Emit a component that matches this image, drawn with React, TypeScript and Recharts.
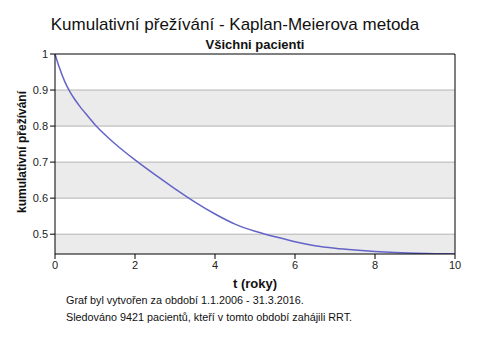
import React from "react";
import {
  LineChart, Line, XAxis, YAxis, ReferenceArea, ReferenceLine,
} from "recharts";

const years = [0, 0.1, 0.25, 0.375, 0.5, 0.625, 0.75, 1, 1.25, 1.5, 2, 2.5, 3, 3.5, 4, 4.5, 5, 5.5, 6, 6.5, 7, 7.5, 8, 8.5, 9, 9.5, 10];
const survival = [1.0, 0.965, 0.922, 0.895, 0.873, 0.854, 0.837, 0.804, 0.776, 0.751, 0.706, 0.665, 0.626, 0.589, 0.556, 0.528, 0.508, 0.493, 0.479, 0.468, 0.461, 0.456, 0.452, 0.449, 0.447, 0.446, 0.445];
const xTicks = [0, 2, 4, 6, 8, 10];
const yTicks = [0.5, 0.6, 0.7, 0.8, 0.9, 1];
const grayBands: [number, number][] = [[0.8, 0.9], [0.6, 0.7], [0.445, 0.5]];

const data = years.map((t, i) => ({ t, s: survival[i] }));

const font = "'Liberation Sans', Arial, sans-serif";
const tick = { fontSize: 11, fill: "#222", fontFamily: font };

export default function App() {
  return (
    <div style={{ position: "absolute", left: 0, top: 0, width: 489, height: 339, background: "#fff", fontFamily: font }}>
      <div style={{ position: "absolute", left: 0, width: 470, top: 15, textAlign: "center", fontSize: 17, color: "#111" }}>
        Kumulativní přežívání - Kaplan-Meierova metoda
      </div>
      <div style={{ position: "absolute", left: 155, width: 200, top: 37, textAlign: "center", fontSize: 13, fontWeight: "bold", color: "#111" }}>
        Všichni pacienti
      </div>
      <LineChart width={489} height={339} data={data} margin={{ top: 54, right: 34, left: 15, bottom: 55 }}>
        {grayBands.map(([a, b]) => (
          <ReferenceArea key={a} y1={a} y2={b} fill="#ebebeb" fillOpacity={1} stroke="none" />
        ))}
        {yTicks.slice(0, -1).map((v) => (
          <ReferenceLine key={v} y={v} stroke="#b4b4b4" />
        ))}
        <ReferenceLine y={1} stroke="#000" />
        <ReferenceLine x={10} stroke="#000" />
        <XAxis
          dataKey="t" type="number" domain={[0, 10]} ticks={xTicks}
          tick={tick} stroke="#000" tickSize={5} height={30}
        />
        <YAxis
          type="number" domain={[0.445, 1]} ticks={yTicks} allowDataOverflow
          tick={tick} stroke="#000" tickSize={5} width={40}
        />
        <Line dataKey="s" type="monotone" stroke="#6464c8" strokeWidth={1.5} dot={false} isAnimationActive={false} />
      </LineChart>
      <div style={{ position: "absolute", left: 2, top: 152, width: 40, height: 0, fontSize: 12, fontWeight: "bold", color: "#111" }}>
        <div style={{ position: "absolute", left: 20, top: 0, transform: "translate(-50%, -50%) rotate(-90deg)", whiteSpace: "nowrap" }}>
          kumulativní přežívání
        </div>
      </div>
      <div style={{ position: "absolute", left: 155, width: 200, top: 276, textAlign: "center", fontSize: 13, fontWeight: "bold", color: "#111" }}>
        t (roky)
      </div>
      <div style={{ position: "absolute", left: 66, top: 292, fontSize: 10.8, color: "#111", lineHeight: "17px" }}>
        Graf byl vytvořen za období 1.1.2006 - 31.3.2016.<br />
        Sledováno 9421 pacientů, kteří v tomto období zahájili RRT.
      </div>
    </div>
  );
}
